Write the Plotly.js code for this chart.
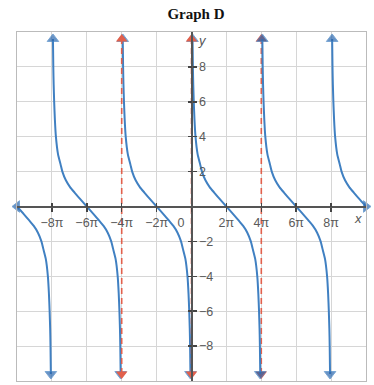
<!DOCTYPE html>
<html>
<head>
<meta charset="utf-8">
<script src="https://cdn.plot.ly/plotly-3.0.1.min.js"></script>
<style>html,body{margin:0;padding:0;background:#fff;}#chart{width:374px;height:385px;}</style>
</head>
<body>
<div id="chart"></div>
<script>
// x values are in multiples of pi
var branchOffsetX = [0.06, 0.08, 0.10, 0.13, 0.17, 0.23, 0.35, 0.5, 0.6, 0.8, 1.05, 1.3, 1.6, 2, 2.4, 2.7, 2.95, 3.2, 3.4, 3.5, 3.65, 3.77, 3.83, 3.87, 3.90, 3.92, 3.94];
var branchY       = [9.6,  8,    7,    6,    5,    4,    3,    2.4, 2,   1.5, 1.1,  0.8, 0.45, 0, -0.45, -0.8, -1.1, -1.5, -2, -2.4, -3, -4, -5, -6, -7, -8, -9.6];
var fullBranchStarts = [-8, -4, 0, 4];
var leftHalfStart = -12;   // branch that enters from x = -10π
var rightHalfStart = 8;    // branch that exits at x = 10π
var asymptotesFront = [-4, 0];
var asymptotesBack = [4];
var xTickVals = [-8, -6, -4, -2, 0, 2, 4, 6, 8];
var xTickText = ['\u22128\u03c0', '\u22126\u03c0', '\u22124\u03c0', '\u22122\u03c0', '0\u00a0\u00a0\u00a0\u00a0\u00a0\u00a0', '2\u03c0', '4\u03c0', '6\u03c0', '8\u03c0'];
var yTickVals = [-8, -6, -4, -2, 2, 4, 6, 8];
var yTickText = ['\u22128', '\u22126', '\u22124', '\u22122', '2', '4', '6', '8'];

var blue = '#4080c2', blueDark = '#2a66ad', red = '#e2604c';
var traces = [];

function asym(a) {
  traces.push({x: [a, a], y: [-9.6, 9.6], mode: 'lines+markers', type: 'scatter',
    line: {color: red, width: 1.6, dash: '6px,4px'},
    marker: {symbol: ['triangle-down', 'triangle-up'], size: 10, color: red},
    cliponaxis: false, hoverinfo: 'skip', showlegend: false});
}
asymptotesBack.forEach(asym);

function branch(start, idxFrom, idxTo, symFirst, symLast) {
  var xs = [], ys = [];
  for (var i = idxFrom; i <= idxTo; i++) { xs.push(start + branchOffsetX[i]); ys.push(branchY[i]); }
  if (start === leftHalfStart) { xs[0] = -10; }
  if (start === rightHalfStart) { xs[xs.length - 1] = 10; }
  var sizes = xs.map(function (_, k) { return (k === 0 || k === xs.length - 1) ? 10 : 0; });
  var syms = xs.map(function (_, k) { return k === 0 ? symFirst : symLast; });
  traces.push({x: xs, y: ys, type: 'scatter', mode: 'lines+markers',
    line: {color: blue, width: 2, shape: 'spline', smoothing: 0.6},
    marker: {symbol: syms, size: sizes, color: blueDark},
    cliponaxis: false, hoverinfo: 'skip', showlegend: false});
}
var mid = branchY.indexOf(0);
branch(leftHalfStart, mid, branchY.length - 1, 'triangle-left', 'triangle-down');
fullBranchStarts.forEach(function (s) { branch(s, 0, branchY.length - 1, 'triangle-up', 'triangle-down'); });
branch(rightHalfStart, 0, mid, 'triangle-up', 'triangle-right');

asymptotesFront.forEach(asym);

// dummy traces to activate overlay axes
traces.push({x: [0], y: [0], xaxis: 'x2', yaxis: 'y2', mode: 'markers', marker: {opacity: 0}, hoverinfo: 'skip', showlegend: false});
traces.push({x: [0], y: [0], xaxis: 'x3', yaxis: 'y3', mode: 'markers', marker: {opacity: 0}, hoverinfo: 'skip', showlegend: false});

var tickFont = {family: 'Liberation Sans, Arial, sans-serif', size: 12.5, color: '#5a5a5a'};
var layout = {
  width: 374, height: 385,
  margin: {l: 17, r: 8, t: 32, b: 4},
  paper_bgcolor: '#fff', plot_bgcolor: '#fff',
  title: {text: '<b>Graph D</b>', font: {family: 'Liberation Serif, Times New Roman, serif', size: 15, color: '#111'},
          x: 0.524, xanchor: 'center', y: 0.963, yanchor: 'middle', yref: 'container'},
  xaxis: {range: [-10, 10], dtick: 2, tick0: 0, showgrid: true, gridcolor: '#d6d6d6', gridwidth: 1,
          zeroline: false, showticklabels: false, ticks: '', showline: true, mirror: true, linecolor: '#bbb', linewidth: 1, fixedrange: true},
  yaxis: {range: [-10, 10], dtick: 2, tick0: 0, showgrid: true, gridcolor: '#d6d6d6', gridwidth: 1,
          zeroline: false, showticklabels: false, ticks: '', showline: true, mirror: true, linecolor: '#bbb', linewidth: 1, fixedrange: true},
  xaxis2: {overlaying: 'x', anchor: 'free', position: 0.5, side: 'bottom', range: [-10, 10],
           tickmode: 'array', tickvals: xTickVals, ticktext: xTickText, ticks: 'outside', ticklen: 4, tickwidth: 1.5, tickcolor: '#444',
           showline: true, linecolor: '#555', linewidth: 2, showgrid: false, zeroline: false, tickfont: tickFont, fixedrange: true},
  xaxis3: {overlaying: 'x', anchor: 'free', position: 0.5, side: 'top', range: [-10, 10],
           tickmode: 'array', tickvals: [-8, -6, -4, -2, 2, 4, 6, 8], ticks: 'outside', ticklen: 4, tickwidth: 1.5, tickcolor: '#444',
           showticklabels: false, showline: false, showgrid: false, zeroline: false, fixedrange: true},
  yaxis2: {overlaying: 'y', anchor: 'free', position: 0.5, side: 'right', range: [-10, 10],
           tickmode: 'array', tickvals: yTickVals, ticktext: yTickText, ticks: 'outside', ticklen: 4, tickwidth: 1.5, tickcolor: '#444',
           showline: true, linecolor: '#555', linewidth: 2, showgrid: false, zeroline: false, tickfont: tickFont, fixedrange: true},
  yaxis3: {overlaying: 'y', anchor: 'free', position: 0.5, side: 'left', range: [-10, 10],
           tickmode: 'array', tickvals: yTickVals, ticks: 'outside', ticklen: 4, tickwidth: 1.5, tickcolor: '#444',
           showticklabels: false, showline: false, showgrid: false, zeroline: false, fixedrange: true},
  annotations: [
    {x: 9.55, y: -0.7, xref: 'x', yref: 'y', text: '<i>x</i>', showarrow: false,
     font: {family: 'Liberation Sans, Arial, sans-serif', size: 13, color: '#555'}},
    {x: 0.65, y: 9.5, xref: 'x', yref: 'y', text: '<i>y</i>', showarrow: false,
     font: {family: 'Liberation Sans, Arial, sans-serif', size: 13, color: '#555'}}
  ],
  showlegend: false
};
Plotly.newPlot('chart', traces, layout, {displayModeBar: false, staticPlot: true});
</script>
</body>
</html>
